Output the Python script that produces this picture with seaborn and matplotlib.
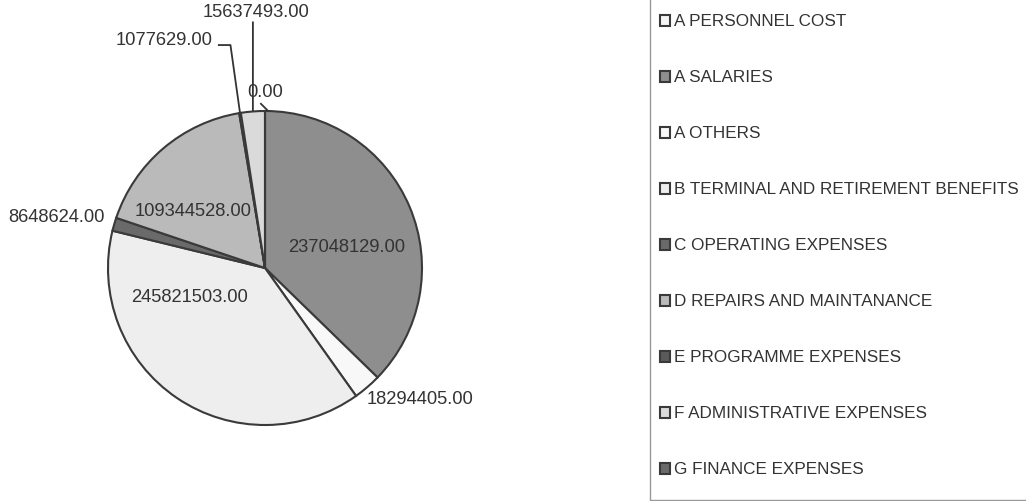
import numpy as np
import matplotlib
matplotlib.use("Agg")
import matplotlib.pyplot as plt
from matplotlib.patches import Rectangle
import seaborn as sns

# --- DATA ---
categories = [
    "A PERSONNEL COST",
    "A SALARIES",
    "A OTHERS",
    "B TERMINAL AND RETIREMENT BENEFITS",
    "C OPERATING EXPENSES",
    "D REPAIRS AND MAINTANANCE",
    "E PROGRAMME EXPENSES",
    "F ADMINISTRATIVE EXPENSES",
    "G FINANCE EXPENSES",
]
amounts = [0.00, 237048129.00, 18294405.00, 245821503.00, 8648624.00,
           109344528.00, 1077629.00, 15637493.00, 0.00]

# --- STYLE ---
colors = ["#f4f4f4", "#8e8e8e", "#f8f8f8", "#eeeeee", "#6a6a6a",
          "#bababa", "#5a5a5a", "#dadada", "#6a6a6a"]
# label text centres (data units, radius = 1) and optional leader elbows
label_pos = {
    0: (0.0, 1.12),
    1: (0.52, 0.13),
    2: (0.99, -0.84),
    3: (-0.48, -0.19),
    4: (-1.33, 0.32),
    5: (-0.46, 0.36),
    6: (-0.64, 1.45),
    7: (-0.06, 1.63),
}
leaders = {
    0: [(-0.03, 1.05), (0.02, 1.0)],
    6: [(-0.30, 1.42), (-0.22, 1.42)],
    7: [(-0.077, 1.57)],
}

sns.set_theme(style="white")
plt.rcParams['font.family'] = ['Liberation Sans', 'DejaVu Sans']
TXT = "#333333"
FS_PIE = 13.2
FS_LEG = 12.3

W, H = 1026, 501
fig = plt.figure(figsize=(W / 100, H / 100), dpi=100)
ax = fig.add_axes([0, 0, 1, 1])
cx, cy, R = 265, 268, 157

wedges, _ = ax.pie(amounts, colors=colors, startangle=90, counterclock=False,
                   radius=1, wedgeprops=dict(edgecolor="#3a3a3a", linewidth=1.5))
ax.set_xlim(-cx / R, (W - cx) / R)
ax.set_ylim(-(H - cy) / R, cy / R)
ax.set_aspect("auto")
ax.axis("off")

for i, (x, y) in label_pos.items():
    ax.text(x, y, f"{amounts[i]:.2f}", ha="center", va="center",
            fontsize=FS_PIE, color=TXT)
    if i in leaders:
        w = wedges[i]
        mid = np.deg2rad((w.theta1 + w.theta2) / 2)
        end = (np.cos(mid), np.sin(mid))
        pts = leaders[i] + [end] if i != 0 else leaders[i]
        xs, ys = zip(*pts)
        ax.plot(xs, ys, color="#333333", lw=1.3, solid_capstyle="butt")

leg = fig.legend(wedges, categories, loc="upper left",
                 bbox_to_anchor=(0.6335, 0.992), frameon=False,
                 fontsize=FS_LEG, labelcolor=TXT, handlelength=0.6,
                 handleheight=0.6, handletextpad=0.2, labelspacing=2.4,
                 borderpad=0.6, borderaxespad=0)

# legend box: open at the top and right, as in the scan
fig.patches.append(Rectangle((650 / W, 1.5 / H), 400 / W, 1.05,
                             transform=fig.transFigure, fill=False,
                             edgecolor="#999999", linewidth=1.0))

fig.savefig("out.png", dpi=100)
